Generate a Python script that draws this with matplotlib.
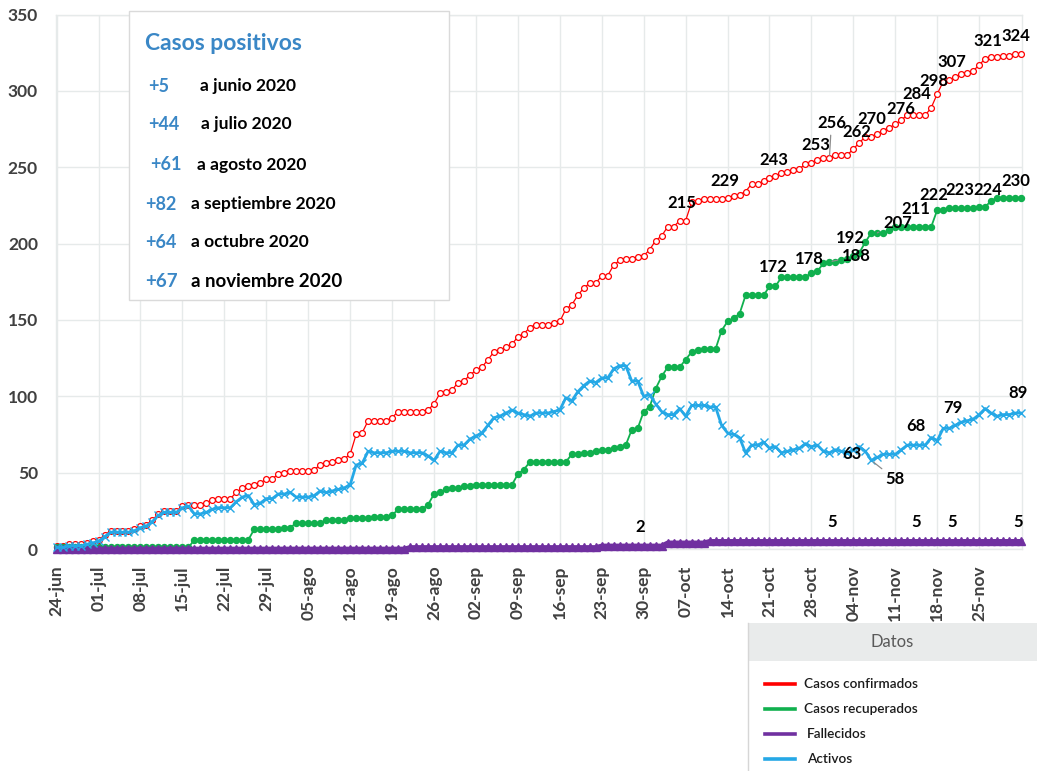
import matplotlib
matplotlib.use('Agg')
import matplotlib.pyplot as plt
from matplotlib.patches import Rectangle
from matplotlib.lines import Line2D

plt.rcParams['font.family'] = ['Lato', 'DejaVu Sans']

# ---------------- data ----------------
tick_labels = ['24-jun', '01-jul', '08-jul', '15-jul', '22-jul', '29-jul', '05-ago',
               '12-ago', '19-ago', '26-ago', '02-sep', '09-sep', '16-sep', '23-sep',
               '30-sep', '07-oct', '14-oct', '21-oct', '28-oct', '04-nov', '11-nov',
               '18-nov', '25-nov']

confirmados = [
    2, 2, 3, 3, 3, 4, 5, 6, 9, 12,
    12, 12, 12, 13, 15, 16, 19, 23, 25, 25,
    25, 28, 29, 29, 29, 30, 32, 33, 33, 33,
    37, 40, 41, 42, 43, 46, 46, 49, 50, 51,
    51, 51, 51, 52, 55, 56, 57, 58, 59, 62,
    75, 76, 84, 84, 84, 84, 86, 90, 90, 90,
    90, 90, 91, 95, 102, 103, 104, 109, 110, 114,
    117, 119, 124, 129, 130, 132, 134, 139, 141, 145,
    147, 147, 147, 148, 149, 157, 160, 166, 171, 174,
    174, 179, 179, 186, 189, 190, 190, 191, 192, 196,
    202, 205, 211, 211, 215, 215, 227, 228, 229, 229,
    229, 229, 230, 231, 232, 234, 239, 239, 241, 243,
    244, 246, 247, 248, 249, 252, 253, 255, 256, 256,
    258, 258, 258, 262, 266, 270, 270, 272, 274, 276,
    278, 281, 284, 284, 284, 284, 289, 298, 306, 307,
    309, 311, 312, 313, 317, 321, 322, 322, 323, 323,
    324, 324]

recuperados = [
    1, 1, 1, 1, 1, 1, 1, 1, 1, 1,
    1, 1, 1, 1, 1, 1, 1, 1, 1, 1,
    1, 1, 1, 6, 6, 6, 6, 6, 6, 6,
    6, 6, 6, 13, 13, 13, 13, 13, 14, 14,
    17, 17, 17, 17, 17, 19, 19, 19, 19, 20,
    20, 20, 20, 21, 21, 21, 22, 26, 26, 26,
    26, 26, 29, 36, 37, 39, 40, 40, 41, 41,
    42, 42, 42, 42, 42, 42, 42, 49, 52, 57,
    57, 57, 57, 57, 57, 57, 62, 62, 63, 63,
    64, 65, 65, 66, 67, 68, 78, 79, 90, 93,
    105, 113, 119, 119, 119, 124, 129, 130, 131, 131,
    131, 143, 149, 151, 154, 166, 166, 166, 166, 172,
    172, 178, 178, 178, 178, 178, 181, 182, 187, 188,
    188, 189, 190, 192, 194, 201, 207, 207, 207, 209,
    211, 211, 211, 211, 211, 211, 211, 222, 222, 223,
    223, 223, 223, 223, 224, 224, 228, 230, 230, 230,
    230, 230]

fallecidos = (
    [0] * 59 + [1] * 32 + [2] * 11 + [4] * 7 + [5] * 53
)

activos = [
    1, 1, 2, 2, 2, 3, 4, 5, 8, 11,
    11, 11, 11, 12, 14, 15, 18, 22, 24, 24,
    24, 27, 28, 23, 23, 24, 26, 27, 27, 27,
    31, 34, 35, 29, 30, 33, 33, 36, 36, 37,
    34, 34, 34, 35, 38, 37, 38, 39, 40, 42,
    55, 56, 64, 63, 63, 63, 64, 64, 64, 63,
    63, 63, 61, 58, 64, 63, 63, 68, 68, 72,
    74, 76, 81, 86, 87, 89, 91, 89, 88, 87,
    89, 89, 89, 90, 91, 99, 97, 103, 107, 110,
    109, 112, 112, 118, 120, 120, 110, 110, 100, 101,
    95, 90, 88, 88, 92, 87, 94, 94, 94, 93,
    93, 81, 76, 75, 73, 63, 68, 68, 70, 66,
    67, 63, 64, 65, 66, 69, 67, 68, 64, 63,
    65, 64, 63, 65, 67, 64, 58, 60, 62, 62,
    62, 65, 68, 68, 68, 68, 73, 71, 79, 79,
    81, 83, 84, 85, 88, 92, 89, 87, 88, 88,
    89, 89]

# indices of points that carry data labels
lab_conf = [104, 111, 119, 126, 129, 133, 135, 139, 142, 147, 149, 155, 161]
lab_recu = [119, 124, 133, 129, 137, 143, 147, 151, 155, 161]
lab_act = [132, 136, 143, 149, 161]
lab_fall = [97, 129, 143, 149, 161]

resumen_num = ['+5', '+44', '+61', '+82', '+64', '+67']
resumen_txt = ['a junio 2020', 'a julio 2020', 'a agosto 2020', 'a septiembre 2020',
               'a octubre 2020', 'a noviembre 2020']
serie_nombres = ['Casos confirmados', 'Casos recuperados', 'Fallecidos', 'Activos']

# ---------------- styles / layout ----------------
C_RED, C_GREEN, C_PURPLE, C_BLUE = '#ff0000', '#10b04e', '#7030a0', '#25a8e6'
C_TXT = '#404040'
GRID = '#e6eaea'
W, H = 1037, 771
L, R, T, B = 56, 1022, 14.5, 549

fig = plt.figure(figsize=(W / 100, H / 100), dpi=100)
ax = fig.add_axes([L / W, 1 - B / H, (R - L) / W, (B - T) / H])

x = list(range(len(confirmados)))
ax.plot(x, confirmados, color=C_RED, lw=0.9, marker='o', ms=4.2, mfc='white',
        mec=C_RED, mew=0.9, zorder=3, clip_on=False)
ax.plot(x, recuperados, color=C_GREEN, lw=1.3, marker='o', ms=4.3, mfc=C_GREEN,
        mec=C_GREEN, zorder=4, clip_on=False)
ax.plot(x, fallecidos, color=C_PURPLE, lw=3.4, marker='^', ms=6, mfc=C_PURPLE,
        mec=C_PURPLE, zorder=5, clip_on=False)
ax.plot(x, activos, color=C_BLUE, lw=2.0, marker='x', ms=5.5, mec=C_BLUE,
        mew=1.0, zorder=6, clip_on=False)

ax.set_xlim(-0.1, 161.15)
ax.set_ylim(0, 350)
ax.set_yticks(range(0, 351, 50))
ax.set_xticks([7 * i for i in range(len(tick_labels))])
ax.set_xticklabels(tick_labels, rotation=90)
ax.tick_params(axis='both', length=0, colors=C_TXT)
ax.tick_params(axis='x', labelsize=12.5, pad=12)
ax.tick_params(axis='y', labelsize=12.5, pad=13)
for lab in ax.get_xticklabels() + ax.get_yticklabels():
    lab.set_fontweight('bold')
ax.grid(True, color=GRID, lw=1)
ax.set_axisbelow(True)
for s in ax.spines.values():
    s.set_color(GRID)
    s.set_linewidth(1)

LAB_FS = 12


def put(series, idx, dx, dy, leader=False):
    kw = {}
    if leader:
        kw['arrowprops'] = dict(arrowstyle='-', color='#8c8c8c', lw=0.9,
                                shrinkA=1, shrinkB=2)
    ax.annotate(str(series[idx]), (idx, series[idx]), xytext=(dx, -dy),
                textcoords='offset pixels', ha='center', va='center',
                fontsize=LAB_FS, fontweight='bold', color='black', zorder=8,
                annotation_clip=False, **kw)


conf_off = [(2, -18), (3, -18), (4, -18), (4, -18), (2, -35), (3, -17), (6, -18),
            (12, -19), (10, -21), (-3, -13), (3, -18), (3, -18), (-5, -18)]
for i, (dx, dy) in zip(lab_conf, conf_off):
    put(confirmados, i, dx, dy, leader=(i == 129))

recu_off = [(4, -19), (10, -18), (-3, -18), (27, -6), (20, -10), (3, -18),
            (-3, -15), (-1, -18), (3, -17), (-5, -17)]
for i, (dx, dy) in zip(lab_recu, recu_off):
    put(recuperados, i, dx, dy, leader=(i in (129, 137)))

act_off = [(5, 1), (24, 19), (3, -19), (4, -20), (-3, -20)]
for i, (dx, dy) in zip(lab_act, act_off):
    put(activos, i, dx, dy, leader=(i == 136))

fall_off = [(2, -19), (3, -19), (3, -19), (3, -19), (-3, -19)]
for i, (dx, dy) in zip(lab_fall, fall_off):
    put(fallecidos, i, dx, dy)


def fx(px):
    return px / W


def fy(py):
    return 1 - py / H


# summary box
fig.add_artist(Rectangle((fx(129), fy(300.5)), (449 - 129) / W, (300.5 - 11.5) / H,
                         transform=fig.transFigure, facecolor='white',
                         edgecolor='#dadada', lw=1, zorder=10))
C_NUM = '#3a87c6'
fig.text(fx(145), fy(44), 'Casos positivos', color=C_NUM, fontsize=16.5,
         fontweight='bold', va='center', ha='left', zorder=11)
num_x = [148, 148, 150, 145, 145, 145]
txt_x = [200, 201, 197, 191, 191, 191]
row_y = [86, 124, 165, 204, 242, 281]
for k in range(len(resumen_num)):
    big = k == len(resumen_num) - 1
    fig.text(fx(num_x[k]), fy(row_y[k]), resumen_num[k], color=C_NUM,
             fontsize=13 if not big else 13.5, fontweight='bold', va='center',
             ha='left', zorder=11)
    fig.text(fx(txt_x[k]), fy(row_y[k]), resumen_txt[k], color='black',
             fontsize=12.5 if not big else 13.5, fontweight='bold', va='center',
             ha='left', zorder=11)

# legend panel
fig.add_artist(Rectangle((fx(748), fy(661)), (W - 748) / W, (661 - 623) / H,
                         transform=fig.transFigure, facecolor='#e9ebeb',
                         edgecolor='none', zorder=10))
fig.add_artist(Line2D([fx(748), fx(748)], [fy(623), fy(771)], color='#d6d6d6',
                      lw=1, transform=fig.transFigure, zorder=11))
fig.text(fx(892), fy(642), 'Datos', color='#595959', fontsize=12, ha='center',
         va='center', zorder=11)
leg_colors = [C_RED, C_GREEN, C_PURPLE, C_BLUE]
leg_y = [684, 709, 734, 759]
leg_tx = [804, 804, 807, 807]
for k in range(len(serie_nombres)):
    fig.add_artist(Line2D([fx(765), fx(795)], [fy(leg_y[k]), fy(leg_y[k])],
                          color=leg_colors[k], lw=2.6, transform=fig.transFigure,
                          zorder=11))
    fig.text(fx(leg_tx[k]), fy(leg_y[k]), serie_nombres[k], color='#1a1a1a',
             fontsize=9.8, fontweight='semibold', ha='left', va='center', zorder=11)

fig.savefig('out.png', dpi=100)
